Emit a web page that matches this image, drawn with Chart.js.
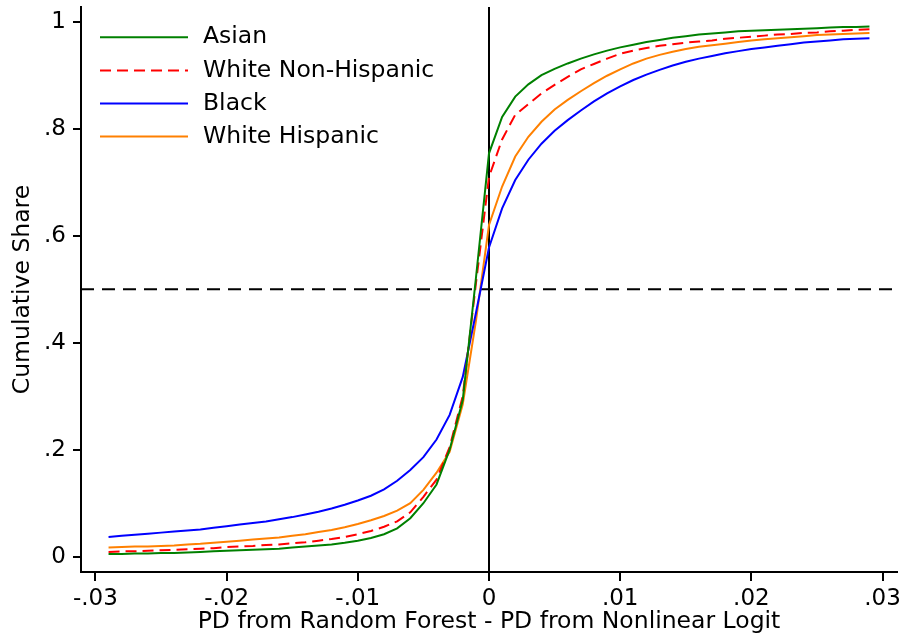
<!DOCTYPE html>
<html>
<head>
<meta charset="utf-8">
<title>Cumulative Share</title>
<script src="https://cdn.jsdelivr.net/npm/chart.js@4.4.1/dist/chart.umd.min.js"></script>
<style>
  html, body { margin: 0; padding: 0; background: #fff; }
  #wrap { width: 905px; height: 640px; }
</style>
</head>
<body>
<div id="wrap"><canvas id="cdfChart" width="905" height="640"></canvas></div>
<script>
// PD difference (random forest minus nonlinear logit), one point per 0.001
const pdGap = [
    -0.029, -0.028, -0.027, -0.026, -0.025, -0.024, -0.023, -0.022, -0.021, -0.020,
    -0.019, -0.018, -0.017, -0.016, -0.015, -0.014, -0.013, -0.012, -0.011, -0.010,
    -0.009, -0.008, -0.007, -0.006, -0.005, -0.004, -0.003, -0.002, -0.001, 0.000,
    0.001, 0.002, 0.003, 0.004, 0.005, 0.006, 0.007, 0.008, 0.009, 0.010,
    0.011, 0.012, 0.013, 0.014, 0.015, 0.016, 0.017, 0.018, 0.019, 0.020,
    0.021, 0.022, 0.023, 0.024, 0.025, 0.026, 0.027, 0.028, 0.029
];

// Cumulative share of borrowers by group
const asian = [
    0.005, 0.005, 0.006, 0.006, 0.007, 0.007, 0.008, 0.009, 0.010, 0.011,
    0.012, 0.013, 0.014, 0.015, 0.017, 0.019, 0.021, 0.023, 0.026, 0.030,
    0.035, 0.042, 0.053, 0.072, 0.100, 0.135, 0.200, 0.293, 0.520, 0.754,
    0.822, 0.860, 0.883, 0.900, 0.912, 0.922, 0.931, 0.939, 0.946, 0.952,
    0.957, 0.962, 0.966, 0.970, 0.973, 0.976, 0.978, 0.980, 0.982, 0.983,
    0.984, 0.985, 0.986, 0.987, 0.988, 0.989, 0.990, 0.990, 0.991
];
const whiteNonHispanic = [
    0.009, 0.010, 0.010, 0.011, 0.012, 0.013, 0.014, 0.015, 0.016, 0.018,
    0.019, 0.020, 0.022, 0.023, 0.025, 0.027, 0.030, 0.033, 0.037, 0.042,
    0.048, 0.056, 0.066, 0.083, 0.112, 0.144, 0.205, 0.300, 0.510, 0.710,
    0.780, 0.826, 0.846, 0.866, 0.882, 0.897, 0.911, 0.921, 0.931, 0.940,
    0.946, 0.951, 0.955, 0.958, 0.961, 0.963, 0.965, 0.968, 0.970, 0.972,
    0.974, 0.976, 0.977, 0.979, 0.980, 0.982, 0.983, 0.985, 0.986
];
const black = [
    0.037, 0.039, 0.041, 0.043, 0.045, 0.047, 0.049, 0.051, 0.054, 0.057,
    0.060, 0.063, 0.066, 0.070, 0.074, 0.079, 0.084, 0.090, 0.097, 0.105,
    0.114, 0.126, 0.142, 0.162, 0.186, 0.219, 0.265, 0.336, 0.455, 0.578,
    0.651, 0.704, 0.742, 0.772, 0.796, 0.816, 0.834, 0.851, 0.866, 0.879,
    0.891, 0.901, 0.910, 0.918, 0.925, 0.931, 0.936, 0.941, 0.945, 0.949,
    0.952, 0.955, 0.958, 0.961, 0.963, 0.965, 0.967, 0.968, 0.969
];
const whiteHispanic = [
    0.017, 0.018, 0.019, 0.019, 0.020, 0.021, 0.023, 0.024, 0.026, 0.028,
    0.030, 0.032, 0.034, 0.036, 0.039, 0.042, 0.046, 0.050, 0.055, 0.061,
    0.068, 0.076, 0.086, 0.100, 0.125, 0.157, 0.196, 0.285, 0.440, 0.620,
    0.692, 0.748, 0.785, 0.813, 0.836, 0.854, 0.870, 0.885, 0.899, 0.911,
    0.922, 0.931, 0.938, 0.944, 0.949, 0.953, 0.956, 0.959, 0.962, 0.965,
    0.967, 0.969, 0.971, 0.973, 0.975, 0.976, 0.977, 0.978, 0.979
];

const xTicks = [-0.03, -0.02, -0.01, 0, 0.01, 0.02, 0.03];
const yTicks = [0, 0.2, 0.4, 0.6, 0.8, 1];

const FONT = 'DejaVu Sans';

// Stata style numbers: drop the leading zero (.2, -.03)
function shortLabel(v) {
    if (v === 0) return '0';
    return String(v).replace(/^(-?)0\./, '$1.');
}

function toPoints(values) {
    return pdGap.map((x, i) => ({ x: x, y: values[i] }));
}

// Zero line and median line, drawn under the curves
const refLines = {
    id: 'refLines',
    beforeDatasetsDraw(chart) {
        const { ctx, chartArea, scales } = chart;
        const x0 = scales.x.getPixelForValue(0);
        const yMid = scales.y.getPixelForValue(0.5);
        ctx.save();
        ctx.strokeStyle = '#000';
        ctx.lineWidth = 2;
        ctx.beginPath();
        ctx.setLineDash([13, 8]);
        ctx.moveTo(chartArea.left, yMid);
        ctx.lineTo(chartArea.right, yMid);
        ctx.stroke();
        ctx.setLineDash([]);
        ctx.beginPath();
        ctx.moveTo(x0, chartArea.top);
        ctx.lineTo(x0, chartArea.bottom);
        ctx.stroke();
        ctx.restore();
    }
};

// Legend inside the plot, top left
const insideLegend = {
    id: 'insideLegend',
    afterDatasetsDraw(chart) {
        const { ctx, chartArea } = chart;
        ctx.save();
        ctx.font = '23.5px "' + FONT + '"';
        ctx.textBaseline = 'middle';
        chart.data.datasets.forEach((ds, i) => {
            const y = chartArea.top + 30.3 + i * 33.1;
            ctx.strokeStyle = ds.borderColor;
            ctx.lineWidth = 2;
            ctx.setLineDash(ds.borderDash || []);
            ctx.beginPath();
            ctx.moveTo(chartArea.left + 19, y);
            ctx.lineTo(chartArea.left + 107, y);
            ctx.stroke();
            ctx.fillStyle = '#000';
            ctx.fillText(ds.label, chartArea.left + 122, y);
        });
        ctx.restore();
    }
};

const lineStyle = { borderWidth: 2, pointRadius: 0, tension: 0, fill: false };

new Chart(document.getElementById('cdfChart'), {
    type: 'line',
    data: {
        datasets: [
            { label: 'Asian', data: toPoints(asian), borderColor: '#008000', ...lineStyle },
            { label: 'White Non-Hispanic', data: toPoints(whiteNonHispanic), borderColor: '#ff0000', borderDash: [11, 6], ...lineStyle },
            { label: 'Black', data: toPoints(black), borderColor: '#0000ff', ...lineStyle },
            { label: 'White Hispanic', data: toPoints(whiteHispanic), borderColor: '#ff8000', ...lineStyle }
        ]
    },
    options: {
        responsive: false,
        animation: false,
        devicePixelRatio: 1,
        layout: { padding: { left: 0, top: 7, right: 8, bottom: 0 } },
        plugins: {
            legend: { display: false },
            tooltip: { enabled: false }
        },
        scales: {
            x: {
                type: 'linear',
                min: -0.0311,
                max: 0.0311,
                afterBuildTicks: axis => { axis.ticks = xTicks.map(v => ({ value: v })); },
                afterFit: axis => {
                    axis.height = 68;
                    axis.paddingLeft = 0;
                    axis.paddingRight = 0;
                },
                ticks: {
                    callback: v => shortLabel(v),
                    color: '#000',
                    font: { family: FONT, size: 23 },
                    padding: 4,
                    maxRotation: 0,
                    autoSkip: false
                },
                grid: { drawOnChartArea: false, drawTicks: true, tickLength: 9, color: '#000', lineWidth: 2 },
                border: { color: '#000', width: 2 },
                title: {
                    display: true,
                    text: 'PD from Random Forest - PD from Nonlinear Logit',
                    color: '#000',
                    font: { family: FONT, size: 23.5 },
                    padding: { top: 0, bottom: 4 }
                }
            },
            y: {
                type: 'linear',
                min: -0.0286,
                max: 1.0275,
                afterBuildTicks: axis => { axis.ticks = yTicks.map(v => ({ value: v })); },
                afterFit: axis => {
                    axis.width = 81;
                    axis.paddingTop = 0;
                    axis.paddingBottom = 0;
                },
                ticks: {
                    callback: v => shortLabel(v),
                    color: '#000',
                    font: { family: FONT, size: 23 },
                    padding: 7
                },
                grid: { drawOnChartArea: false, drawTicks: true, tickLength: 8, color: '#000', lineWidth: 2 },
                border: { color: '#000', width: 2 },
                title: {
                    display: true,
                    text: 'Cumulative Share',
                    color: '#000',
                    font: { family: FONT, size: 23.5 },
                    padding: { top: 9, bottom: 0 }
                }
            }
        }
    },
    plugins: [refLines, insideLegend]
});
</script>
</body>
</html>
